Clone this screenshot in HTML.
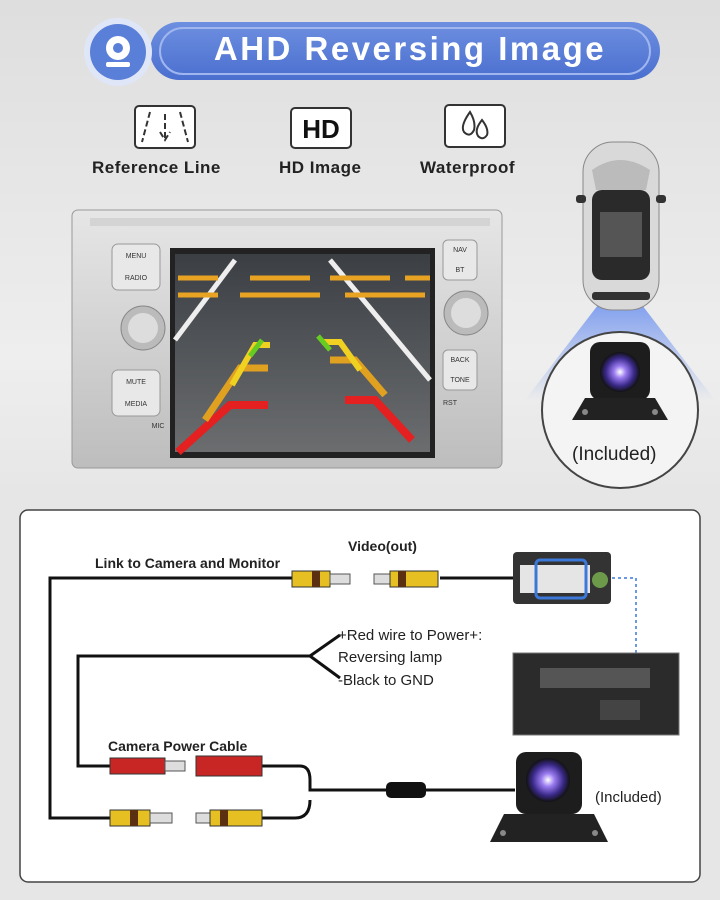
<!DOCTYPE html>
<html><head><meta charset="utf-8"><style>
body{margin:0;width:720px;height:900px;overflow:hidden;background:linear-gradient(#dedede,#eeeeee 40%,#e6e6e6 55%);font-family:"Liberation Sans",sans-serif;position:relative}
.abs{position:absolute}
.lbl{position:absolute;font-weight:bold;font-size:17px;color:#222;letter-spacing:.5px}
</style></head><body>
<svg class="abs" style="left:0;top:0" width="720" height="900" viewBox="0 0 720 900">
<defs>
<linearGradient id="ban" x1="0" y1="0" x2="0" y2="1"><stop offset="0" stop-color="#6e8fe0"/><stop offset="1" stop-color="#4a6fcf"/></linearGradient>
<linearGradient id="sil" x1="0" y1="0" x2="0" y2="1"><stop offset="0" stop-color="#e6e6e6"/><stop offset="1" stop-color="#bdbdbd"/></linearGradient>
<linearGradient id="road" x1="0" y1="0" x2="0" y2="1"><stop offset="0" stop-color="#3b3f44"/><stop offset="1" stop-color="#6b6d6f"/></linearGradient>
<linearGradient id="cone" x1="0" y1="0" x2="0" y2="1"><stop offset="0" stop-color="#3d6ff0"/><stop offset="1" stop-color="#3d6ff0" stop-opacity="0"/></linearGradient>
<radialGradient id="lens"><stop offset="0" stop-color="#fff"/><stop offset=".3" stop-color="#9a7bf0"/><stop offset=".7" stop-color="#3b2a8a"/><stop offset="1" stop-color="#111"/></radialGradient>
</defs>
<rect x="150" y="22" width="510" height="58" rx="29" fill="url(#ban)"/>
<rect x="160" y="28" width="490" height="46" rx="23" fill="none" stroke="#9fb6ee" stroke-width="2"/>
<circle cx="118" cy="52" r="34" fill="#dfe6f7"/>
<circle cx="118" cy="52" r="28" fill="#5a7fd8"/>
<circle cx="118" cy="48" r="12" fill="#fff"/><circle cx="118" cy="48" r="5" fill="#5a7fd8"/>
<rect x="106" y="62" width="24" height="5" rx="2" fill="#fff"/>
<rect x="135" y="106" width="60" height="42" rx="4" fill="#fff" stroke="#333" stroke-width="2"/>
<path d="M150 112 L142 142 M180 112 L188 142 M165 114 V138 M160 132 L165 140 L170 132" stroke="#333" stroke-width="2" fill="none" stroke-dasharray="6 3"/>
<rect x="291" y="108" width="60" height="40" rx="4" fill="#fff" stroke="#333" stroke-width="2"/>
<text x="321" y="138" font-size="26" font-weight="bold" text-anchor="middle" fill="#111" font-family="Liberation Sans">HD</text>
<rect x="445" y="105" width="60" height="42" rx="4" fill="#fff" stroke="#333" stroke-width="2"/>
<path d="M470 112 q-10 14 -6 20 q6 6 10 -2 q2 -8 -4 -18z M482 120 q-8 10 -4 16 q5 5 9 -1 q2 -6 -5 -15z" fill="none" stroke="#333" stroke-width="2"/>
<rect x="72" y="210" width="430" height="258" rx="6" fill="url(#sil)" stroke="#999"/>
<rect x="90" y="218" width="400" height="8" fill="#d4d4d4"/>
<rect x="112" y="244" width="48" height="46" rx="6" fill="#e8e8e8" stroke="#999"/>
<rect x="112" y="370" width="48" height="46" rx="6" fill="#e8e8e8" stroke="#999"/>
<circle cx="143" cy="328" r="22" fill="#bbb" stroke="#888"/><circle cx="143" cy="328" r="15" fill="#ddd"/>
<rect x="443" y="240" width="34" height="40" rx="5" fill="#e8e8e8" stroke="#999"/>
<rect x="443" y="350" width="34" height="40" rx="5" fill="#e8e8e8" stroke="#999"/>
<circle cx="466" cy="313" r="22" fill="#bbb" stroke="#888"/><circle cx="466" cy="313" r="15" fill="#ddd"/>
<g font-size="7" fill="#333" font-family="Liberation Sans" text-anchor="middle">
<text x="136" y="258">MENU</text><text x="136" y="280">RADIO</text><text x="136" y="384">MUTE</text><text x="136" y="406">MEDIA</text>
<text x="460" y="252">NAV</text><text x="460" y="272">BT</text><text x="460" y="362">BACK</text><text x="460" y="382">TONE</text><text x="450" y="405">RST</text><text x="158" y="428">MIC</text></g>
<rect x="170" y="248" width="265" height="210" fill="#222"/>
<rect x="175" y="254" width="255" height="198" fill="url(#road)"/>
<path d="M175 340 L235 260 M430 380 L330 260" stroke="#eee" stroke-width="5"/>
<g stroke="#e8a322" stroke-width="5"><path d="M178 278h40M250 278h60M330 278h60M405 278h25M178 295h40M240 295h80M345 295h80"/></g>
<path d="M178 452 L230 405 H268" stroke="#e42020" stroke-width="8" fill="none"/>
<path d="M205 420 L240 368 H268" stroke="#e0a020" stroke-width="7" fill="none"/>
<path d="M232 385 L255 345 H270" stroke="#f0d020" stroke-width="6" fill="none"/>
<path d="M250 356 L262 340" stroke="#6c2" stroke-width="5"/>
<path d="M412 440 L375 400 H345" stroke="#e42020" stroke-width="8" fill="none"/>
<path d="M385 395 L355 360 H330" stroke="#e0a020" stroke-width="7" fill="none"/>
<path d="M360 370 L340 342 H322" stroke="#f0d020" stroke-width="6" fill="none"/>
<path d="M330 350 L318 336" stroke="#6c2" stroke-width="5"/>
<path d="M598 305 L642 305 L715 400 L525 400 Z" fill="url(#cone)" opacity=".6"/>
<rect x="583" y="142" width="76" height="168" rx="30" fill="#d9d9d9" stroke="#888"/>
<path d="M592 170 Q620 150 650 170 L646 190 H596 Z" fill="#bbb"/>
<rect x="576" y="195" width="10" height="8" rx="3" fill="#333"/><rect x="656" y="195" width="10" height="8" rx="3" fill="#333"/>
<rect x="592" y="190" width="58" height="90" rx="10" fill="#2a2a2a"/>
<rect x="600" y="212" width="42" height="45" fill="#555"/>
<rect x="592" y="292" width="58" height="8" rx="3" fill="#333"/>
<circle cx="620" cy="410" r="78" fill="#f4f4f4" stroke="#444" stroke-width="2"/>
<rect x="590" y="342" width="60" height="58" rx="10" fill="#1d1d1d"/>
<circle cx="620" cy="372" r="20" fill="url(#lens)"/>
<path d="M572 420 L585 398 H655 L668 420 Z" fill="#222"/>
<circle cx="585" cy="412" r="3" fill="#888"/><circle cx="655" cy="412" r="3" fill="#888"/>
<rect x="20" y="510" width="680" height="372" rx="8" fill="#fff" stroke="#444" stroke-width="1.5"/>
<g stroke="#111" stroke-width="3" fill="none">
<path d="M300 578 H50 V818 H110"/>
<path d="M440 578 H515"/>
<path d="M310 656 H78 V766 H110"/>
<path d="M310 656 L340 635 M310 656 L340 678"/>
<path d="M262 766 H300 Q310 766 310 780 V790 H515"/>
<path d="M262 818 H295 Q310 818 310 800"/>
</g>
<path d="M612 578 H636 V670" stroke="#3b78d8" stroke-width="1.5" stroke-dasharray="3 3" fill="none"/>
<rect x="386" y="782" width="40" height="16" rx="5" fill="#111"/>
<g>
<rect x="292" y="571" width="38" height="16" fill="#e6c022" stroke="#333"/><rect x="312" y="571" width="8" height="16" fill="#5a3010"/><rect x="330" y="574" width="20" height="10" fill="#ddd" stroke="#555"/>
<rect x="374" y="574" width="16" height="10" fill="#ddd" stroke="#555"/><rect x="390" y="571" width="48" height="16" fill="#e6c022" stroke="#333"/><rect x="398" y="571" width="8" height="16" fill="#5a3010"/>
<rect x="110" y="810" width="40" height="16" fill="#e6c022" stroke="#333"/><rect x="130" y="810" width="8" height="16" fill="#5a3010"/><rect x="150" y="813" width="22" height="10" fill="#ddd" stroke="#555"/>
<rect x="196" y="813" width="14" height="10" fill="#ddd" stroke="#555"/><rect x="210" y="810" width="52" height="16" fill="#e6c022" stroke="#333"/><rect x="220" y="810" width="8" height="16" fill="#5a3010"/>
<rect x="110" y="758" width="55" height="16" fill="#c82525" stroke="#333"/><rect x="165" y="761" width="20" height="10" fill="#ddd" stroke="#555"/>
<rect x="196" y="756" width="66" height="20" fill="#c82525" stroke="#333"/>
</g>
<rect x="513" y="552" width="98" height="52" rx="4" fill="#333"/>
<rect x="520" y="565" width="70" height="28" fill="#e5e5e5"/>
<rect x="536" y="560" width="50" height="38" rx="4" fill="none" stroke="#3b78d8" stroke-width="3"/>
<circle cx="600" cy="580" r="8" fill="#6c9a4a"/>
<rect x="513" y="653" width="166" height="82" fill="#2b2b2b" stroke="#777"/>
<rect x="540" y="668" width="110" height="20" fill="#555"/>
<rect x="600" y="700" width="40" height="20" fill="#444"/>
<rect x="516" y="752" width="66" height="62" rx="10" fill="#1d1d1d"/>
<circle cx="548" cy="780" r="22" fill="url(#lens)"/>
<path d="M490 842 L504 814 H594 L608 842 Z" fill="#222"/>
<circle cx="503" cy="833" r="3" fill="#888"/><circle cx="595" cy="833" r="3" fill="#888"/>
<g font-family="Liberation Sans" font-weight="bold" fill="#222">
<text x="95" y="568" font-size="14">Link to Camera and Monitor</text>
<text x="348" y="551" font-size="14">Video(out)</text>
<text x="108" y="751" font-size="14">Camera Power Cable</text>
</g>
<g font-family="Liberation Sans" fill="#222" font-size="15">
<text x="338" y="640">+Red wire to Power+:</text>
<text x="338" y="662">Reversing lamp</text>
<text x="338" y="685">-Black to GND</text>
<text x="595" y="802">(Included)</text>
<text x="572" y="460" font-size="19">(Included)</text>
</g>
</svg>
<div class="abs" style="left:170px;top:30px;width:480px;text-align:center;color:#fff;font-weight:bold;font-size:33px;letter-spacing:2.5px">AHD Reversing Image</div>
<div class="lbl" style="left:92px;top:158px">Reference Line</div>
<div class="lbl" style="left:279px;top:158px">HD Image</div>
<div class="lbl" style="left:420px;top:158px">Waterproof</div>
</body></html>
